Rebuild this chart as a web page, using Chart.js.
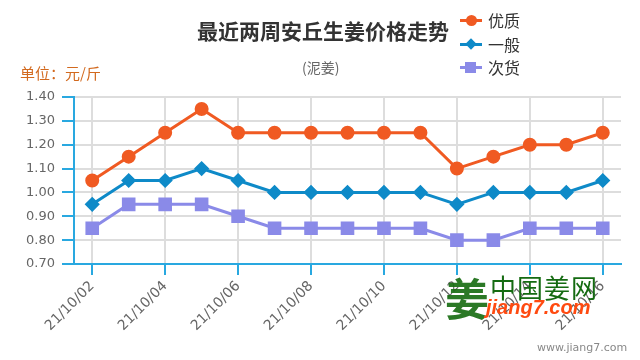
<!DOCTYPE html>
<html>
<head>
<meta charset="utf-8">
<script src="https://cdn.jsdelivr.net/npm/chart.js@4"></script>
<style>
  body { margin: 0; background: #fff; }
  #wrap { position: relative; width: 640px; height: 360px; overflow: hidden; font-family: "Noto Sans CJK SC", sans-serif; }
  #chart { position: absolute; left: 0; top: 0; }
  .abs { position: absolute; white-space: nowrap; }
  #title { left: 197px; top: 15px; font-size: 21px; font-weight: bold; color: #333; }
  #sub { left: 302px; top: 57px; font-size: 14px; color: #666; }
  #unit { left: 20px; top: 62px; font-size: 15px; color: #d2691e; }
  .leg { left: 460px; height: 20px; font-size: 16px; color: #333; }
  .leg .ln { position: absolute; left: 0; top: 9px; width: 22px; height: 3px; }
  .leg .mk { position: absolute; }
  .leg span { position: absolute; left: 28px; top: -2px; }
  #logo1 { left: 445px; top: 265px; font-size: 44px; font-weight: bold; color: #1a6e14; opacity: 0.92; }
  #logo2 { left: 490px; top: 268px; font-size: 26px; color: #156b12; letter-spacing: 1px; }
  #logo3 { left: 486px; top: 296px; font-size: 20px; font-weight: bold; font-style: italic; color: #ff4a10; font-family: "Liberation Sans", sans-serif; }
  #www { left: 537px; top: 341px; font-size: 11px; color: #888; font-family: "DejaVu Sans", sans-serif; }
</style>
</head>
<body>
<div id="wrap">
  <canvas id="chart" width="640" height="360"></canvas>
  <div class="abs" id="title">最近两周安丘生姜价格走势</div>
  <div class="abs" id="sub">(泥姜)</div>
  <div class="abs" id="unit">单位：元/斤</div>
  <div id="legend"></div>
  <div class="abs" id="logo1">姜</div>
  <div class="abs" id="logo2">中国姜网</div>
  <div class="abs" id="logo3">jiang7.com</div>
  <div class="abs" id="www">www.jiang7.com</div>
</div>
<script>
// Data
const dates = ['21/10/02', '21/10/03', '21/10/04', '21/10/05', '21/10/06', '21/10/07', '21/10/08',
  '21/10/09', '21/10/10', '21/10/11', '21/10/12', '21/10/13', '21/10/14', '21/10/15', '21/10/16'];
const youzhi = [1.05, 1.15, 1.25, 1.35, 1.25, 1.25, 1.25, 1.25, 1.25, 1.25, 1.10, 1.15, 1.20, 1.20, 1.25];
const yiban  = [0.95, 1.05, 1.05, 1.10, 1.05, 1.00, 1.00, 1.00, 1.00, 1.00, 0.95, 1.00, 1.00, 1.00, 1.05];
const cihuo  = [0.85, 0.95, 0.95, 0.95, 0.90, 0.85, 0.85, 0.85, 0.85, 0.85, 0.80, 0.80, 0.85, 0.85, 0.85];
const seriesNames = ['优质', '一般', '次货'];
const yMin = 0.7, yMax = 1.4, yStep = 0.1;

const colors = ['#f05a22', '#0e8ac8', '#8a8ae8'];
const axisBlue = '#29a8e0';

// Legend (vertical, top right)
const legend = document.getElementById('legend');
seriesNames.forEach((name, i) => {
  const row = document.createElement('div');
  row.className = 'abs leg';
  row.style.top = (10 + i * 23.5) + 'px';
  let mk;
  if (i === 0) mk = '<div class="mk" style="left:6px;top:5px;width:11px;height:11px;border-radius:50%;background:' + colors[i] + '"></div>';
  else if (i === 1) mk = '<div class="mk" style="left:7px;top:6px;width:8px;height:8px;transform:rotate(45deg);background:' + colors[i] + '"></div>';
  else mk = '<div class="mk" style="left:5px;top:5px;width:11px;height:11px;background:' + colors[i] + '"></div>';
  row.innerHTML = '<div class="ln" style="background:' + colors[i] + '"></div>' + mk + '<span>' + name + '</span>';
  legend.appendChild(row);
});

const ctx = document.getElementById('chart');
new Chart(ctx, {
  type: 'line',
  data: {
    labels: dates,
    datasets: [
      {
        label: seriesNames[0],
        data: youzhi,
        borderColor: colors[0],
        backgroundColor: colors[0],
        pointStyle: 'circle',
        pointRadius: 5.5,
        borderWidth: 3
      },
      {
        label: seriesNames[1],
        data: yiban,
        borderColor: colors[1],
        backgroundColor: colors[1],
        pointStyle: 'rectRot',
        pointRadius: 5.5,
        borderWidth: 3
      },
      {
        label: seriesNames[2],
        data: cihuo,
        borderColor: colors[2],
        backgroundColor: colors[2],
        pointStyle: 'rect',
        pointRadius: 7.5,
        borderWidth: 3
      }
    ]
  },
  options: {
    responsive: false,
    animation: false,
    layout: {
      padding: { top: 97, right: 19, left: 0, bottom: 0 }
    },
    plugins: {
      legend: { display: false },
      title: { display: false },
      tooltip: { enabled: false }
    },
    scales: {
      x: {
        offset: true,
        afterFit: function(scale) { scale.height = 96; },
        grid: {
          offset: false,
          color: '#dddddd',
          lineWidth: 2,
          tickColor: axisBlue,
          tickLength: 11
        },
        border: { color: axisBlue, width: 2 },
        ticks: {
          autoSkip: true,
          maxTicksLimit: 8,
          minRotation: 45,
          maxRotation: 45,
          padding: 3,
          color: '#666',
          font: { family: 'DejaVu Sans', size: 14 }
        }
      },
      y: {
        min: yMin,
        max: yMax,
        afterFit: function(scale) { scale.width = 74; },
        grid: {
          color: '#dddddd',
          lineWidth: 2,
          tickColor: axisBlue,
          tickLength: 12
        },
        border: { color: axisBlue, width: 2 },
        ticks: {
          stepSize: yStep,
          padding: 7,
          color: '#666',
          font: { family: 'DejaVu Sans', size: 13 },
          callback: function(value) {
            return value.toFixed(2);
          }
        }
      }
    }
  }
});
</script>
</body>
</html>
